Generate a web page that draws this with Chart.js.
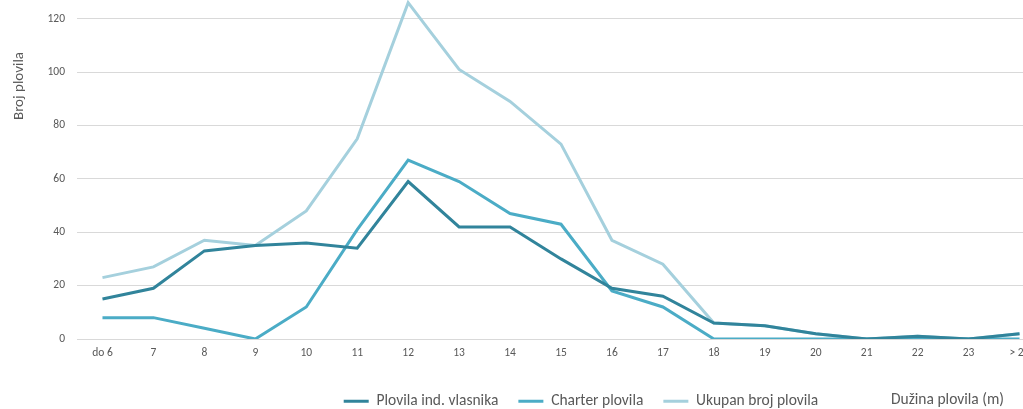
<!DOCTYPE html>
<html>
<head>
<meta charset="utf-8">
<script src="https://cdn.jsdelivr.net/npm/chart.js@4.4.1/dist/chart.umd.min.js"></script>
<style>
  html, body { margin: 0; padding: 0; overflow: hidden; background: #fff; }
  #wrap { width: 1045px; height: 409px; }
</style>
</head>
<body>
<div id="wrap"><canvas id="boatChart"></canvas></div>
<script>
const lengths = ["do 6", "7", "8", "9", "10", "11", "12", "13", "14", "15", "16", "17", "18", "19", "20", "21", "22", "23", "> 24"];
const ownerBoats = [15, 19, 33, 35, 36, 34, 59, 42, 42, 30, 19, 16, 6, 5, 2, 0, 1, 0, 2];
const charterBoats = [8, 8, 4, 0, 12, 41, 67, 59, 47, 43, 18, 12, 0, 0, 0, 0, 0, 0, 0];
const totalBoats = [23, 27, 37, 35, 48, 75, 126, 101, 89, 73, 37, 28, 6, 5, 2, 0, 1, 0, 2];

const FONT = "Carlito, Lato, 'Noto Sans', sans-serif";
const GREY = "#595959";

// axis titles sit where Excel put them, not where Chart.js would
const axisTitles = {
  id: "axisTitles",
  afterLayout(chart) {
    // legend sits a bit right of the plot centre in the original
    chart.legend.left += 20;
    chart.legend.right += 20;
  },
  afterDraw(chart) {
    const ctx = chart.ctx;
    ctx.save();
    ctx.fillStyle = GREY;
    ctx.font = "15.5px " + FONT;
    ctx.textBaseline = "middle";
    ctx.textAlign = "left";
    ctx.fillText("Dužina plovila (m)", 891, 400);
    ctx.font = "15px " + FONT;
    ctx.translate(19, 86);
    ctx.rotate(-Math.PI / 2);
    ctx.textAlign = "center";
    ctx.fillText("Broj plovila", 0, 0);
    ctx.restore();
  }
};

const line = (label, data, color) => ({
  label,
  data,
  borderColor: color,
  backgroundColor: color,
  borderWidth: 3,
  pointRadius: 0,
  tension: 0
});

document.addEventListener("DOMContentLoaded", () => {
  const ctx = document.getElementById("boatChart");

  new Chart(ctx, {
    type: "line",
    data: {
      labels: lengths,
      datasets: [
        line("Plovila ind. vlasnika", ownerBoats, "#31849B"),
        line("Charter plovila", charterBoats, "#4BACC6"),
        line("Ukupan broj plovila", totalBoats, "#A5D0DD")
      ]
    },
    plugins: [axisTitles],
    options: {
      responsive: true,
      maintainAspectRatio: false,
      animation: false,
      layout: { padding: { top: 0, right: 0, bottom: -10, left: 0 } },
      plugins: {
        legend: {
          position: "bottom",
          fullSize: false,
          labels: {
            boxWidth: 25,
            boxHeight: 3,
            padding: 20,
            color: GREY,
            font: { family: FONT, size: 15.5 },
            generateLabels: (chart) =>
              Chart.defaults.plugins.legend.labels.generateLabels(chart)
                .map((l) => ({ ...l, lineWidth: 0 }))
          }
        },
        tooltip: { enabled: false }
      },
      scales: {
        x: {
          offset: true,
          grid: { display: false, drawTicks: false },
          border: { display: false },
          ticks: {
            color: GREY,
            padding: 7,
            maxRotation: 0,
            autoSkip: false,
            font: { family: FONT, size: 11.5 }
          },
          afterFit: (axis) => { axis.height = 34.5; }
        },
        y: {
          min: 0,
          max: 127,
          grid: { color: "#D9D9D9", lineWidth: 1, drawTicks: false },
          border: { display: false },
          ticks: {
            stepSize: 20,
            color: GREY,
            padding: 12,
            font: { family: FONT, size: 11.5 }
          },
          afterBuildTicks: (axis) => {
            axis.ticks = axis.ticks.filter((t) => t.value % 20 === 0);
          },
          afterFit: (axis) => {
            axis.width = 77;
            // no extra room above the 127 ceiling
            axis.paddingTop = 0;
            axis.paddingBottom = 0;
          }
        }
      }
    }
  });
});
</script>
</body>
</html>
